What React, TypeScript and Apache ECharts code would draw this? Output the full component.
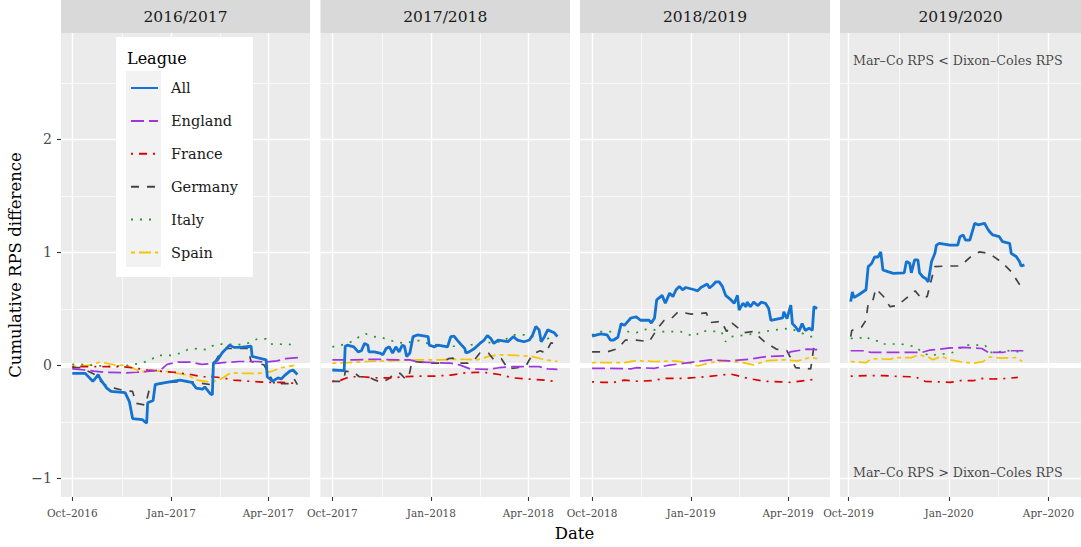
import React, { useEffect, useRef } from "react";
import * as echarts from "echarts";

// ---------- data ----------
const seasons = ["2016/2017", "2017/2018", "2018/2019", "2019/2020"];
const seasonStartYears = [2016, 2017, 2018, 2019];
const leagues = ["All", "England", "France", "Germany", "Italy", "Spain"];
const yTicks = [-1, 0, 1, 2];
const yMinorTicks = [-0.5, 0.5, 1.5, 2.5];
const annotationTop = "Mar–Co RPS < Dixon–Coles RPS";
const annotationBottom = "Mar–Co RPS > Dixon–Coles RPS";

// x = days after 1 October of the season's first year, y = cumulative RPS difference
const all1617 = [[0,-0.07],[12,-0.07],[19,-0.14],[21,-0.12],[24,-0.08],[26,-0.12],[32,-0.2],[36,-0.23],[49,-0.24],[53,-0.32],[56,-0.47],[65,-0.48],[69,-0.51],[70,-0.33],[75,-0.31],[77,-0.17],[81,-0.16],[93,-0.14],[100,-0.13],[106,-0.14],[111,-0.15],[115,-0.2],[121,-0.21],[123,-0.19],[128,-0.25],[130,-0.26],[131,0.02],[135,0.05],[139,0.11],[146,0.18],[150,0.16],[156,0.16],[166,0.17],[167,0.08],[180,0.05],[181,-0.1],[186,-0.14],[191,-0.11],[194,-0.12],[197,-0.09],[202,-0.05],[205,-0.04],[209,-0.08]];
const eng1617 = [[0,-0.03],[12,-0.04],[20,-0.05],[30,-0.06],[50,-0.065],[60,-0.06],[72,-0.05],[82,-0.04],[88,0.01],[98,0.03],[110,0.03],[120,0.01],[130,0.015],[140,0.025],[155,0.035],[170,0.035],[180,0.03],[190,0.04],[198,0.06],[210,0.07]];
const fra1617 = [[0,-0.01],[20,-0.01],[45,-0.01],[55,-0.02],[70,-0.04],[80,-0.05],[95,-0.06],[110,-0.08],[120,-0.1],[130,-0.1],[140,-0.11],[150,-0.13],[165,-0.14],[180,-0.15],[195,-0.15],[210,-0.16]];
const ger1617 = [[0,-0.02],[8,-0.02],[20,-0.075],[25,-0.13],[30,-0.17],[39,-0.2],[47,-0.22],[56,-0.23],[59,-0.335],[68,-0.35],[71,-0.23],[76,-0.17],[82,-0.16],[101,-0.14],[113,-0.15],[129,-0.17],[132,0.025],[138,0.12],[144,0.15],[163,0.15],[166,0.035],[178,0.005],[183,-0.085],[189,-0.18],[194,-0.16],[203,-0.16],[206,-0.12],[209,-0.17]];
const ita1617 = [[0,0.01],[8,0.01],[20,0.0],[36,-0.01],[51,0.0],[64,0.02],[73,0.05],[79,0.09],[92,0.09],[101,0.11],[107,0.14],[116,0.15],[124,0.14],[129,0.17],[136,0.19],[150,0.185],[160,0.185],[166,0.21],[172,0.235],[180,0.235],[184,0.19],[206,0.185]];
const spa1617 = [[0,-0.01],[14,0.0],[26,0.03],[39,0.005],[51,0.0],[60,-0.04],[68,-0.06],[73,-0.045],[88,-0.055],[107,-0.085],[116,-0.13],[129,-0.15],[138,-0.12],[147,-0.065],[160,-0.07],[172,-0.07],[184,-0.055],[194,-0.02],[206,0.0]];

const all1718 = [[0,-0.04],[11,-0.045],[12,0.17],[14,0.18],[20,0.165],[24,0.12],[27,0.13],[30,0.195],[33,0.18],[34,0.12],[39,0.12],[44,0.11],[47,0.095],[50,0.15],[53,0.165],[56,0.11],[59,0.165],[62,0.12],[65,0.18],[67,0.17],[69,0.08],[72,0.11],[75,0.255],[79,0.27],[89,0.255],[90,0.18],[95,0.165],[98,0.18],[107,0.165],[110,0.255],[113,0.26],[116,0.225],[120,0.18],[123,0.15],[124,0.11],[127,0.12],[132,0.15],[137,0.195],[141,0.225],[144,0.265],[147,0.24],[150,0.195],[154,0.225],[163,0.21],[168,0.255],[172,0.225],[178,0.21],[183,0.225],[186,0.27],[189,0.345],[192,0.315],[194,0.21],[197,0.255],[200,0.315],[206,0.29],[209,0.255]];
const eng1718 = [[0,0.05],[20,0.05],[40,0.055],[60,0.05],[72,0.05],[80,0.03],[95,0.025],[110,0.02],[118,0.005],[128,-0.03],[145,-0.035],[155,-0.02],[168,-0.01],[180,-0.01],[192,-0.01],[200,-0.03],[209,-0.035]];
const fra1718 = [[0,-0.14],[8,-0.13],[16,-0.1],[28,-0.1],[42,-0.11],[55,-0.11],[67,-0.1],[77,-0.095],[95,-0.095],[110,-0.085],[124,-0.065],[135,-0.06],[145,-0.065],[155,-0.08],[168,-0.11],[182,-0.12],[198,-0.13],[209,-0.145]];
const ger1718 = [[0,-0.14],[8,-0.14],[11,-0.12],[12,-0.05],[20,-0.06],[25,-0.1],[33,-0.1],[40,-0.13],[46,-0.15],[52,-0.12],[58,-0.07],[63,-0.07],[68,-0.12],[71,-0.1],[74,0.035],[82,0.03],[92,0.02],[100,0.02],[108,0.06],[112,0.065],[118,0.02],[126,0.02],[132,0.05],[137,0.11],[145,0.11],[150,0.05],[157,0.06],[163,-0.03],[172,-0.02],[180,0.0],[186,0.1],[193,0.13],[198,0.11],[203,0.2],[209,0.19]];
const ita1718 = [[0,0.165],[8,0.18],[14,0.195],[20,0.22],[25,0.255],[31,0.28],[38,0.255],[45,0.25],[58,0.21],[68,0.195],[78,0.225],[89,0.195],[104,0.17],[123,0.17],[135,0.195],[157,0.21],[168,0.27],[181,0.27],[191,0.24],[195,0.21],[206,0.27]];
const spa1718 = [[0,0.02],[15,0.025],[32,0.035],[50,0.04],[62,0.045],[80,0.05],[100,0.05],[120,0.055],[135,0.05],[145,0.08],[155,0.095],[170,0.09],[185,0.08],[198,0.05],[209,0.035]];

const all1819 = [[0,0.26],[8,0.28],[14,0.27],[17,0.225],[20,0.225],[24,0.25],[27,0.37],[30,0.355],[36,0.42],[41,0.43],[45,0.4],[53,0.4],[55,0.375],[58,0.42],[60,0.58],[65,0.62],[68,0.55],[72,0.64],[75,0.61],[78,0.67],[81,0.7],[84,0.67],[87,0.69],[95,0.67],[98,0.66],[101,0.69],[107,0.72],[109,0.685],[112,0.71],[115,0.74],[118,0.74],[121,0.7],[124,0.62],[129,0.58],[132,0.55],[135,0.62],[136.5,0.49],[140,0.55],[143,0.52],[144,0.56],[147,0.52],[150,0.56],[154,0.53],[157,0.56],[161,0.55],[164,0.505],[166,0.4],[177,0.42],[178,0.475],[181,0.415],[184.5,0.535],[186,0.37],[189,0.34],[192,0.3],[195,0.37],[198,0.31],[201.5,0.33],[204.5,0.31],[206,0.52],[209,0.505]];
const eng1819 = [[0,-0.025],[17,-0.025],[36,-0.03],[41,-0.02],[58,-0.025],[70,0.0],[90,0.025],[110,0.05],[127,0.04],[146,0.055],[163,0.08],[180,0.085],[184,0.12],[200,0.145],[209,0.14]];
const fra1819 = [[0,-0.145],[10,-0.15],[20,-0.15],[30,-0.13],[40,-0.14],[55,-0.135],[68,-0.115],[85,-0.115],[105,-0.1],[120,-0.085],[128,-0.075],[135,-0.09],[145,-0.115],[160,-0.14],[175,-0.145],[185,-0.15],[200,-0.13],[209,-0.12]];
const ger1819 = [[0,0.12],[14,0.12],[24,0.15],[31,0.225],[41,0.225],[53,0.21],[61,0.33],[67,0.4],[73,0.41],[80,0.475],[92,0.455],[106,0.465],[110,0.38],[120,0.39],[125,0.3],[130,0.375],[141,0.29],[150,0.3],[160,0.21],[171,0.145],[181,0.13],[189,-0.02],[203,-0.03],[206,0.17],[209,0.19]];
const ita1819 = [[0,0.27],[6,0.3],[33,0.3],[41,0.29],[50,0.32],[56,0.32],[64,0.3],[82,0.3],[95,0.255],[101,0.305],[120,0.3],[124,0.21],[129,0.255],[144,0.27],[163,0.305],[184,0.33],[191,0.3],[203,0.255],[209,0.255]];
const spa1819 = [[0,0.025],[30,0.025],[41,0.043],[58,0.035],[76,0.04],[89,0.025],[98,-0.005],[110,0.025],[124,0.043],[140,0.025],[150,0.005],[163,0.043],[178,0.05],[191,0.04],[203,0.072],[209,0.06]];

const all1920 = [[2,0.565],[3.5,0.65],[5,0.6],[10,0.63],[16,0.67],[18,0.875],[21,0.9],[24,0.96],[27,0.96],[29.5,1.005],[31.5,0.845],[36,0.83],[41,0.815],[51,0.82],[53,0.92],[56,0.905],[57.5,0.82],[60.5,0.935],[63.5,0.935],[65,0.82],[68,0.785],[70.5,0.77],[73,0.74],[76,0.92],[79,0.99],[80.5,1.065],[83,1.08],[93,1.065],[100,1.065],[102,1.14],[105,1.155],[107,1.11],[111,1.11],[115.5,1.258],[118.5,1.245],[121.5,1.25],[124.5,1.258],[127,1.215],[129,1.185],[132,1.155],[138,1.14],[141,1.095],[147.5,1.08],[149,0.99],[153.5,0.965],[156.5,0.92],[158,0.88],[161,0.89]];
const eng1920 = [[2,0.13],[13,0.13],[21,0.115],[67,0.115],[74,0.135],[93,0.155],[105,0.16],[122,0.15],[128,0.115],[141,0.115],[148,0.13],[160,0.13]];
const fra1920 = [[2,-0.095],[16,-0.09],[32,-0.09],[41,-0.095],[56,-0.1],[62,-0.105],[70,-0.14],[82,-0.145],[93,-0.15],[102,-0.135],[114,-0.135],[122,-0.115],[132,-0.12],[145,-0.115],[155,-0.105]];
const ger1920 = [[2,0.255],[3,0.31],[12,0.34],[16,0.4],[18,0.55],[22,0.565],[25,0.68],[32,0.61],[38,0.52],[44,0.53],[51,0.58],[61,0.66],[67,0.59],[72,0.61],[76,0.765],[79,0.875],[90,0.88],[102,0.88],[107,0.92],[114,0.98],[120,1.005],[129,0.99],[140,0.915],[149,0.83],[157,0.71]];
const ita1920 = [[2,0.24],[10,0.24],[16,0.26],[19,0.235],[24,0.217],[29,0.217],[32,0.19],[48,0.19],[62,0.165],[67,0.115],[76,0.08],[82,0.105],[90,0.1],[97,0.12],[106,0.18],[125,0.18],[129,0.12],[135,0.105],[141,0.135],[157,0.12]];
const spa1920 = [[2,0.035],[16,0.025],[21,0.06],[38,0.055],[44,0.07],[58,0.07],[64,0.095],[73,0.075],[77,0.05],[85,0.08],[93,0.05],[102,0.034],[114,0.02],[123,0.034],[129,0.075],[141,0.065],[154,0.07],[159,0.035]];

const seasonData = [
  [all1617, eng1617, fra1617, ger1617, ita1617, spa1617],
  [all1718, eng1718, fra1718, ger1718, ita1718, spa1718],
  [all1819, eng1819, fra1819, ger1819, ita1819, spa1819],
  [all1920, eng1920, fra1920, ger1920, ita1920, spa1920],
];

// ---------- layout / style ----------
const FONT = "DejaVu Serif";
const PANEL_LEFT = [61, 320.5, 580, 840];
const PANEL_WIDTH = [249, 249.5, 250, 241];
const PANEL_TOP = 33;
const PANEL_HEIGHT = 464;
const X_RANGE = [[-10.5, 220.7], [-10.96, 220.7], [-11.2, 220.9], [-7.8, 212.8]];
const Y_RANGE = [-1.164, 2.942];
const COLORS = ["#1473D0", "#A035E0", "#DD0000", "#444444", "#2A962A", "#F5C500"];
const WIDTHS = [2.8, 1.7, 1.7, 1.7, 1.7, 1.7];
const DASHES: any[] = ["solid", [13, 5], [2, 6, 8, 6], [8, 8], [2, 7], [4, 4, 12, 4]];

const MONTHS = ["Jan", "Feb", "Mar", "Apr", "May", "Jun", "Jul", "Aug", "Sep", "Oct", "Nov", "Dec"];
const DAY = 86400000;
function dayOffset(y0: number, y: number, m: number) {
  return Math.round((Date.UTC(y, m, 1) - Date.UTC(y0, 9, 1)) / DAY);
}

export default function App() {
  const ref = useRef<HTMLDivElement>(null);
  useEffect(() => {
    if (!ref.current) return;
    const chart = echarts.init(ref.current, undefined, { renderer: "svg" });

    const grids: any[] = [];
    const xAxes: any[] = [];
    const yAxes: any[] = [];
    const series: any[] = [];
    const graphics: any[] = [];

    seasons.forEach((season, i) => {
      const y0 = seasonStartYears[i];
      const tickDefs = [
        { d: 0, label: `${MONTHS[9]}–${y0}` },
        { d: dayOffset(y0, y0 + 1, 0), label: `${MONTHS[0]}–${y0 + 1}` },
        { d: dayOffset(y0, y0 + 1, 3), label: `${MONTHS[3]}–${y0 + 1}` },
      ];
      const majors = tickDefs.map((t) => t.d);
      const minors = [majors[1] / 2, (majors[1] + majors[2]) / 2];
      const labelOf: Record<string, string> = {};
      tickDefs.forEach((t) => (labelOf[String(t.d)] = t.label));

      grids.push({
        left: PANEL_LEFT[i],
        top: PANEL_TOP,
        width: PANEL_WIDTH[i],
        height: PANEL_HEIGHT,
        show: true,
        backgroundColor: "#EBEBEB",
        borderWidth: 0,
      });
      xAxes.push({
        type: "value",
        gridIndex: i,
        min: X_RANGE[i][0],
        max: X_RANGE[i][1],
        axisLine: { show: false, onZero: false },
        splitLine: { show: false },
        axisTick: { show: true, customValues: majors, length: 4, lineStyle: { color: "#333333", width: 1.1 } },
        axisLabel: {
          customValues: majors,
          formatter: (v: number) => labelOf[String(Math.round(v))] || "",
          fontFamily: FONT,
          fontSize: 10.5,
          color: "#4D4D4D",
          margin: 10,
        },
      });
      yAxes.push({
        type: "value",
        gridIndex: i,
        min: Y_RANGE[0],
        max: Y_RANGE[1],
        axisLine: { show: false, onZero: false },
        splitLine: { show: false },
        axisTick: { show: i === 0, customValues: yTicks, length: 4, lineStyle: { color: "#333333", width: 1.1 } },
        axisLabel: {
          show: i === 0,
          customValues: yTicks,
          formatter: (v: number) => (v < 0 ? "−" + Math.abs(v) : String(v)),
          fontFamily: FONT,
          fontSize: 14,
          color: "#4D4D4D",
          margin: 9,
        },
        name: i === 0 ? "Cumulative RPS difference" : "",
        nameLocation: "middle",
        nameRotate: 90,
        nameGap: 37,
        nameTextStyle: { fontFamily: FONT, fontSize: 16.5, color: "#000000" },
      });

      // panel grid lines (white) drawn through the panel's own scales
      const gridLines: any[] = [];
      minors.forEach((d) => gridLines.push({ xAxis: d, lineStyle: { color: "#FFFFFF", width: 0.7, type: "solid" } }));
      majors.forEach((d) => gridLines.push({ xAxis: d, lineStyle: { color: "#FFFFFF", width: 1.4, type: "solid" } }));
      yMinorTicks.forEach((v) => gridLines.push({ yAxis: v, lineStyle: { color: "#FFFFFF", width: 0.7, type: "solid" } }));
      yTicks.forEach((v) => gridLines.push({ yAxis: v, lineStyle: { color: "#FFFFFF", width: v === 0 ? 5 : 1.4, type: "solid" } }));
      series.push({
        type: "line",
        name: "_grid" + i,
        xAxisIndex: i,
        yAxisIndex: i,
        data: [[0, 0]],
        showSymbol: false,
        lineStyle: { opacity: 0 },
        silent: true,
        z: 1,
        markLine: { silent: true, symbol: ["none", "none"], label: { show: false }, data: gridLines },
      });

      leagues.forEach((lg, j) => {
        series.push({
          type: "line",
          name: lg,
          xAxisIndex: i,
          yAxisIndex: i,
          data: seasonData[i][j],
          showSymbol: false,
          symbol: "none",
          color: COLORS[j],
          lineStyle: { color: COLORS[j], width: WIDTHS[j], type: DASHES[j] },
          z: 10 - j,
        });
      });

      graphics.push({
        type: "rect",
        shape: { x: PANEL_LEFT[i], y: 0, width: PANEL_WIDTH[i], height: PANEL_TOP },
        style: { fill: "#D9D9D9" },
        z: 5,
      });
      graphics.push({
        type: "text",
        x: PANEL_LEFT[i] + PANEL_WIDTH[i] / 2,
        y: PANEL_TOP / 2,
        style: { text: season, fontFamily: FONT, fontSize: 15.5, fill: "#1A1A1A", align: "center", verticalAlign: "middle" },
        z: 6,
      });
    });

    // annotations in the last panel
    series.push({
      type: "scatter",
      name: "_notes",
      xAxisIndex: 3,
      yAxisIndex: 3,
      symbolSize: 1,
      itemStyle: { color: "rgba(0,0,0,0)" },
      silent: true,
      data: [
        { value: [100, 2.7], name: annotationTop },
        { value: [100, -0.95], name: annotationBottom },
      ],
      label: {
        show: true,
        position: "inside",
        formatter: (p: any) => p.name,
        fontFamily: FONT,
        fontSize: 12.7,
        color: "#1A1A1A",
      },
      z: 20,
    });

    // legend box
    graphics.push({ type: "rect", shape: { x: 116, y: 37, width: 137, height: 240 }, style: { fill: "#FFFFFF" }, z: 10 });
    graphics.push({ type: "rect", shape: { x: 126, y: 71, width: 35, height: 196 }, style: { fill: "#F2F2F2" }, z: 11 });
    graphics.push({
      type: "text",
      x: 127,
      y: 58,
      style: { text: "League", fontFamily: FONT, fontSize: 16, fill: "#000000", align: "left", verticalAlign: "middle" },
      z: 12,
    });
    graphics.push({
      type: "text",
      x: 574.5,
      y: 533,
      style: { text: "Date", fontFamily: FONT, fontSize: 16.5, fill: "#000000", align: "center", verticalAlign: "middle" },
      z: 12,
    });

    chart.setOption({
      animation: false,
      backgroundColor: "#FFFFFF",
      grid: grids,
      xAxis: xAxes,
      yAxis: yAxes,
      series,
      graphic: graphics,
      legend: {
        data: leagues,
        orient: "vertical",
        left: 130,
        top: 80,
        padding: 0,
        itemWidth: 27,
        itemHeight: 16,
        itemGap: 16.9,
        z: 20,
        selectedMode: false,
        itemStyle: { opacity: 0 },
        textStyle: { fontFamily: FONT, fontSize: 14.5, color: "#1A1A1A", lineHeight: 16, padding: [0, 0, 0, 8] },
      },
    });
    return () => chart.dispose();
  }, []);
  return <div ref={ref} style={{ position: "fixed", left: 0, top: 0, width: 1081, height: 547 }} />;
}
